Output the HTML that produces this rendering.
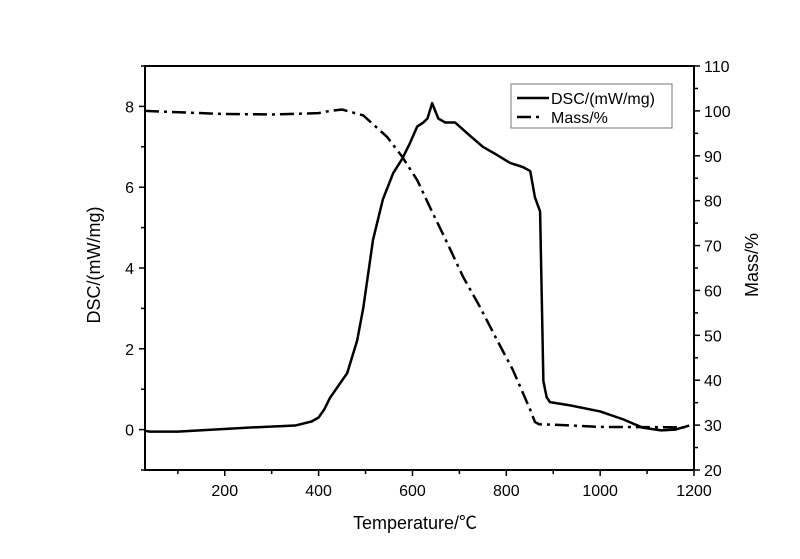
<!DOCTYPE html>
<html><head><meta charset="utf-8"><style>
body{margin:0;background:#fff;}
svg{display:block;font-family:"Liberation Sans",Arial,"Noto Sans CJK SC",sans-serif;}
</style></head><body>
<svg id="c" width="800" height="559" xmlns="http://www.w3.org/2000/svg"></svg>
<script>
const dscT=[30,40,100,250,350,385,400,412,424,440,461,482,495,516,537,559,578,595,610,623,632,642,655,670,691,720,750,780,808,835,851,861,872,876,879,886,893,936,1000,1050,1090,1130,1160,1190];
const dscV=[-0.03,-0.05,-0.05,0.05,0.1,0.2,0.3,0.5,0.78,1.05,1.4,2.2,3.0,4.7,5.7,6.35,6.7,7.1,7.5,7.6,7.7,8.08,7.7,7.6,7.6,7.3,7.0,6.8,6.6,6.5,6.4,5.75,5.4,3.0,1.2,0.8,0.68,0.6,0.45,0.25,0.05,-0.02,0,0.1];
const massT=[30,200,300,400,424,450,495,546,578,610,637,674,708,744,780,814,851,861,870,921,1000,1190];
const massV=[100,99.3,99.2,99.5,100,100.3,99,94.2,89.8,84.6,78.6,70.6,63,56.3,49,42.3,33.4,30.7,30.2,30,29.6,29.5];
const xTicks=[200,400,600,800,1000,1200];
const yTicks=[0,2,4,6,8];
const y2Ticks=[20,30,40,50,60,70,80,90,100,110];

const L=145,R=694,T=66,B=470;
const X=v=>L+(v-30)/(1200-30)*(R-L);
const Y=v=>B-(v+1)/10*(B-T);
const Y2=v=>B-(v-20)/90*(B-T);
const svg=document.getElementById('c');
const NS='http://www.w3.org/2000/svg';
function mk(tag,at,txt){const e=document.createElementNS(NS,tag);for(const k in at)e.setAttribute(k,at[k]);if(txt!==undefined)e.textContent=txt;svg.appendChild(e);return e;}

let e;
e=mk('rect',{x:L,y:T,width:R-L,height:B-T,fill:'none',stroke:'#000','stroke-width':2});



for(const t of xTicks){
 e=mk('line',{x1:X(t),x2:X(t),y1:B,y2:B+6,stroke:'#000','stroke-width':1.5});
 
 
 e=mk('text',{x:X(t),y:B+26,'font-size':16,'text-anchor':'middle'},t);
 
 
}
for(let t=100;t<1200;t+=200){
 e=mk('line',{x1:X(t),x2:X(t),y1:B,y2:B+4,stroke:'#000','stroke-width':1.5});
 
 
}
for(const t of yTicks){
 e=mk('line',{x1:L-6,x2:L,y1:Y(t),y2:Y(t),stroke:'#000','stroke-width':1.5});
 
 
 e=mk('text',{x:L-11,y:Y(t)+6,'font-size':16,'text-anchor':'end'},t);
 
 
}
for(let t=-1;t<=9;t+=2){
 e=mk('line',{x1:L-4,x2:L,y1:Y(t),y2:Y(t),stroke:'#000','stroke-width':1.5});
 
 
}
for(const t of y2Ticks){
 e=mk('line',{x1:R,x2:R+6,y1:Y2(t),y2:Y2(t),stroke:'#000','stroke-width':1.5});
 
 
 e=mk('text',{x:R+10,y:Y2(t)+6,'font-size':16},t);
 
 
}
for(let t=25;t<110;t+=10){
 e=mk('line',{x1:R,x2:R+4,y1:Y2(t),y2:Y2(t),stroke:'#000','stroke-width':1.5});
 
 
}
e=mk('text',{x:415,y:529,'font-size':18,'text-anchor':'middle'},'Temperature/℃');


e=mk('text',{x:0,y:0,'font-size':18,'text-anchor':'middle',transform:'translate(100,265) rotate(-90)'},'DSC/(mW/mg)');


e=mk('text',{x:0,y:0,'font-size':18,'text-anchor':'middle',transform:'translate(758,265) rotate(-90)'},'Mass/%');



e=mk('polyline',{points:massT.map((t,i)=>X(t)+','+Y2(massV[i])).join(' '),fill:'none',stroke:'#000','stroke-width':2.5,'stroke-dasharray':'14 5 3 5'});


e=mk('polyline',{points:dscT.map((t,i)=>X(t)+','+Y(dscV[i])).join(' '),fill:'none',stroke:'#000','stroke-width':2.5,'stroke-linejoin':'round'});



e=mk('rect',{x:511,y:84,width:161,height:44,fill:'#fff',stroke:'#777','stroke-width':1});


e=mk('line',{x1:517,x2:549,y1:98,y2:98,stroke:'#000','stroke-width':2.5});


e=mk('text',{x:551,y:104,'font-size':16},'DSC/(mW/mg)');


e=mk('line',{x1:517,x2:549,y1:117,y2:117,stroke:'#000','stroke-width':2.5,'stroke-dasharray':'14 5 3 10'});


e=mk('text',{x:551,y:123,'font-size':16},'Mass/%');


</script>
</body></html>
